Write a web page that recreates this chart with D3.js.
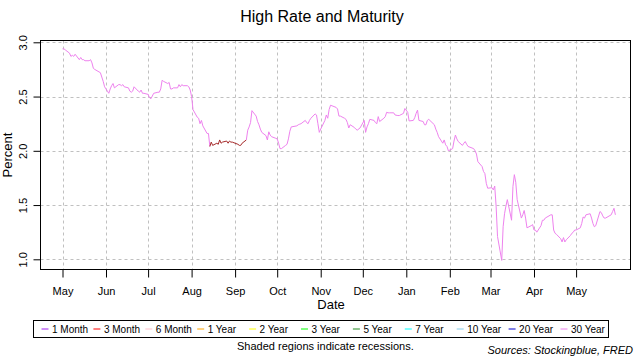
<!DOCTYPE html>
<meta charset="utf-8">
<style>
body { margin: 0; background: #fff; }
text { font-family: "Liberation Sans", Arial, sans-serif; fill: #000; }
.grid line { stroke: #c0c0c0; stroke-width: 1; stroke-dasharray: 3,3; }
</style>
<svg width="640" height="360"></svg>
<script src="https://d3js.org/d3.v7.min.js"></script>
<script>

// DATA: highest treasury rate of the day, trading days per month
var months = ["2019-05","2019-06","2019-07","2019-08","2019-09","2019-10","2019-11",
              "2019-12","2020-01","2020-02","2020-03","2020-04","2020-05"];
var monthDays = [
  [1,2,3,6,7,8,9,10,13,14,15,16,17,20,21,22,23,24,28,29,30,31],
  [3,4,5,6,7,10,11,12,13,14,17,18,19,20,21,24,25,26,27,28],
  [1,2,3,5,8,9,10,11,12,15,16,17,18,19,22,23,24,25,26,29,30,31],
  [1,2,5,6,7,8,9,12,13,14,15,16,19,20,21,22,23,26,27,28,29,30],
  [3,4,5,6,9,10,11,12,13,16,17,18,19,20,23,24,25,26,27,30],
  [1,2,3,4,7,8,9,10,11,15,16,17,18,21,22,23,24,25,28,29,30,31],
  [1,4,5,6,7,8,12,13,14,15,18,19,20,21,22,25,26,27,29],
  [2,3,4,5,6,9,10,11,12,13,16,17,18,19,20,23,24,26,27,30,31],
  [2,3,6,7,8,9,10,13,14,15,16,17,21,22,23,24,27,28,29,30,31],
  [3,4,5,6,7,10,11,12,13,14,18,19,20,21,24,25,26,27,28],
  [2,3,4,5,6,9,10,11,12,13,16,17,18,19,20,23,24,25,26,27,30,31],
  [1,2,3,6,7,8,9,13,14,15,16,17,20,21,22,23,24,27,28,29,30],
  [1,4,5,6,7,8,11,12,13,14,15,18,19,20,21,22,26,27,28,29]
];
var monthRates = [
  [2.94,2.94,2.93,2.90,2.87,2.88,2.87,2.89,2.84,2.86,2.84,2.84,2.83,2.83,2.84,2.81,2.76,2.75,2.72,2.68,2.64,2.59],
  [2.53,2.57,2.60,2.62,2.58,2.61,2.61,2.60,2.61,2.59,2.58,2.55,2.54,2.55,2.59,2.55,2.54,2.56,2.53,2.53],
  [2.52,2.49,2.48,2.53,2.54,2.54,2.57,2.65,2.64,2.62,2.63,2.57,2.57,2.58,2.58,2.61,2.59,2.61,2.60,2.60,2.59,2.56],
  [2.50,2.38,2.31,2.30,2.25,2.28,2.23,2.16,2.16,2.04,2.08,2.05,2.07,2.06,2.10,2.07,2.08,2.09,2.07,2.09,2.08,2.08],
  [2.06,2.05,2.05,2.07,2.10,2.19,2.22,2.26,2.37,2.32,2.27,2.24,2.20,2.17,2.14,2.10,2.175,2.145,2.13,2.115],
  [2.11,2.07,2.02,2.02,2.05,2.06,2.11,2.18,2.22,2.23,2.24,2.245,2.25,2.28,2.26,2.25,2.28,2.30,2.34,2.33,2.25,2.17],
  [2.20,2.28,2.33,2.30,2.38,2.42,2.40,2.385,2.32,2.32,2.30,2.29,2.26,2.21,2.24,2.215,2.20,2.19,2.21],
  [2.28,2.17,2.22,2.25,2.29,2.28,2.26,2.25,2.315,2.27,2.30,2.315,2.355,2.35,2.35,2.35,2.33,2.325,2.325,2.345,2.39],
  [2.355,2.275,2.28,2.305,2.345,2.375,2.28,2.27,2.24,2.24,2.28,2.29,2.24,2.20,2.17,2.13,2.07,2.10,2.055,2.04,2.00],
  [2.02,2.09,2.145,2.11,2.085,2.05,2.07,2.085,2.06,2.04,2.02,2.00,1.97,1.90,1.855,1.81,1.79,1.70,1.655],
  [1.66,1.64,1.675,1.49,1.21,0.99,1.30,1.42,1.49,1.55,1.36,1.67,1.78,1.71,1.55,1.38,1.41,1.45,1.38,1.29,1.31,1.32],
  [1.27,1.27,1.25,1.31,1.36,1.36,1.38,1.41,1.41,1.27,1.24,1.23,1.19,1.16,1.20,1.16,1.18,1.22,1.24,1.25,1.27],
  [1.27,1.29,1.33,1.39,1.38,1.41,1.42,1.38,1.33,1.30,1.31,1.44,1.43,1.40,1.38,1.38,1.41,1.44,1.47,1.41]
];

// which maturity held the high rate, from a date on
var spanStart = ["2019-05-01", "2019-08-15", "2019-09-10"];
var spanMaturity = ["30 Year", "1 Month", "30 Year"];

var maturities = ["1 Month","3 Month","6 Month","1 Year","2 Year","3 Year",
                  "5 Year","7 Year","10 Year","20 Year","30 Year"];
var legendColors = ["#a020f0","#ff0000","#ffc0cb","#ffa500","#ffff00","#00ff00",
                    "#228b22","#00ffff","#87ceeb","#0000cd","#ee82ee"];
var lineColors = {"30 Year": "#ee82ee", "1 Month": "#a52a2a"};

var yTicks = [1.0, 1.5, 2.0, 2.5, 3.0];
var tickMonths = ["2019-05-01","2019-06-01","2019-07-01","2019-08-01","2019-09-01",
                  "2019-10-01","2019-11-01","2019-12-01","2020-01-01","2020-02-01",
                  "2020-03-01","2020-04-01","2020-05-01"];

var parse = d3.utcParse("%Y-%m-%d");

var data = [];
months.forEach(function(m, i) {
  monthDays[i].forEach(function(day, j) {
    var ds = m + "-" + (day < 10 ? "0" + day : day);
    var mat = spanMaturity[0];
    spanStart.forEach(function(s, k) { if (ds >= s) mat = spanMaturity[k]; });
    data.push({date: parse(ds), rate: monthRates[i][j], maturity: mat});
  });
});

var svg = d3.select("svg");
var plot = {left: 40.5, top: 40.5, right: 630.5, bottom: 269.5};

var x = d3.scaleTime()
    .domain([parse("2019-05-01"), parse("2020-05-01")])
    .range([62.5, 576.1]);

var y = d3.scaleLinear()
    .domain([1, 3])
    .range([259.3, 42.3]);

// grid
var grid = svg.append("g").attr("class", "grid");
grid.selectAll(".v").data(tickMonths).enter().append("line")
    .attr("x1", function(d) { return Math.round(x(parse(d))) + 0.5; })
    .attr("x2", function(d) { return Math.round(x(parse(d))) + 0.5; })
    .attr("y1", plot.top).attr("y2", plot.bottom);
grid.selectAll(".h").data(yTicks).enter().append("line")
    .attr("x1", plot.left).attr("x2", plot.right)
    .attr("y1", function(d) { return Math.round(y(d)) + 0.5; })
    .attr("y2", function(d) { return Math.round(y(d)) + 0.5; });

// line, each piece colored by the maturity at its end point
var line = d3.line()
    .x(function(d) { return x(d.date); })
    .y(function(d) { return y(d.rate); });

var runs = [];
data.forEach(function(d, i) {
  var last = runs[runs.length - 1];
  if (!last || last.maturity != d.maturity) {
    runs.push({maturity: d.maturity, pts: i > 0 ? [data[i - 1], d] : [d]});
  } else {
    last.pts.push(d);
  }
});

svg.append("g").selectAll("path").data(runs).enter().append("path")
    .attr("d", function(r) { return line(r.pts); })
    .attr("fill", "none")
    .attr("stroke", function(r) { return lineColors[r.maturity]; })
    .attr("stroke-width", 1);

// frame
svg.append("rect")
    .attr("x", plot.left).attr("y", plot.top)
    .attr("width", plot.right - plot.left).attr("height", plot.bottom - plot.top)
    .attr("fill", "none").attr("stroke", "#000");

// axes
var xAxis = svg.append("g")
    .attr("transform", "translate(0," + plot.bottom + ")")
    .call(d3.axisBottom(x)
      .tickValues(tickMonths.map(parse))
      .tickFormat(d3.utcFormat("%b"))
      .tickSize(8).tickPadding(10));
xAxis.select(".domain").remove();
xAxis.selectAll("text").style("font-size", "11px").attr("font-family", null);

var yAxis = svg.append("g")
    .attr("transform", "translate(" + plot.left + ",0)")
    .call(d3.axisLeft(y).tickValues(yTicks).tickFormat(d3.format(".1f")).tickSize(7));
yAxis.select(".domain").remove();
// rotated tick labels, baseline at x = 27
yAxis.selectAll("text")
    .attr("x", null).attr("y", null).attr("dy", null)
    .attr("transform", "translate(" + (27 - plot.left) + ",0) rotate(-90)")
    .style("text-anchor", "middle")
    .style("font-size", "11px");
xAxis.selectAll("line").attr("stroke", "#000");
yAxis.selectAll("line").attr("stroke", "#000");

// titles
svg.append("text")
    .attr("x", 322).attr("y", 22)
    .attr("text-anchor", "middle")
    .style("font-size", "16px")
    .text("High Rate and Maturity");

svg.append("text")
    .attr("x", 331).attr("y", 309)
    .attr("text-anchor", "middle")
    .style("font-size", "13px")
    .text("Date");

svg.append("text")
    .attr("transform", "translate(12,155) rotate(-90)")
    .attr("text-anchor", "middle")
    .style("font-size", "13px")
    .text("Percent");

// legend
var legend = svg.append("g");
legend.append("rect")
    .attr("x", 33.5).attr("y", 320.5)
    .attr("width", 575).attr("height", 17)
    .attr("fill", "#fff").attr("stroke", "#000");

var item = legend.selectAll(".item").data(maturities).enter().append("g")
    .attr("transform", function(d, i) { return "translate(" + (41.5 + i * 51.9) + ",329)"; });
item.append("line")
    .attr("x1", 0).attr("x2", 7)
    .attr("stroke", function(d, i) { return legendColors[i]; });
item.append("text")
    .attr("x", 10.5).attr("dy", "0.35em")
    .style("font-size", "10px")
    .text(function(d) { return d; });

svg.append("text")
    .attr("x", 237).attr("y", 350)
    .style("font-size", "11px")
    .text("Shaded regions indicate recessions.");

svg.append("text")
    .attr("x", 633).attr("y", 354)
    .attr("text-anchor", "end")
    .style("font-size", "11px")
    .style("font-style", "italic")
    .text("Sources: Stockingblue, FRED");

</script>
